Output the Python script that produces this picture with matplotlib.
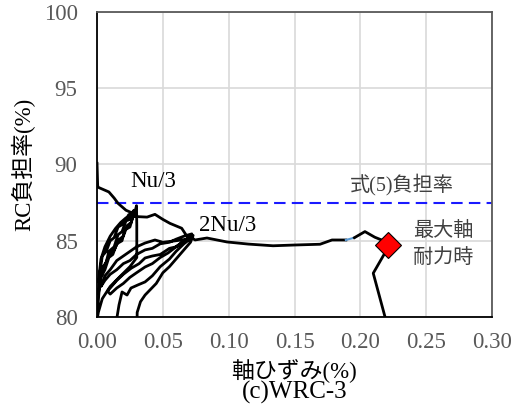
import matplotlib
matplotlib.use("Agg")
import matplotlib.pyplot as plt

plt.rcParams['font.family'] = ['Liberation Serif', 'Noto Sans CJK JP']

# strain (%) and RC load-share ratio (%) along the loading history
strain = [
    # Nu/3 cycles
    0.0000, 0.0005, 0.0010, 0.0050, 0.0090, 0.0130, 0.0160, 0.0220, 0.0260, 0.0290,
    0.0300, 0.0302, 0.0302,
    0.0250, 0.0180, 0.0100, 0.0040, 0.0010, 0.0000,
    0.0005, 0.0020, 0.0040, 0.0070, 0.0090, 0.0130, 0.0160, 0.0190, 0.0220, 0.0250,
    0.0280, 0.0290,
    0.0270, 0.0250, 0.0210, 0.0190, 0.0150, 0.0120, 0.0090, 0.0060, 0.0030, 0.0010,
    0.0020, 0.0040, 0.0070, 0.0100, 0.0130, 0.0160, 0.0200, 0.0240, 0.0280,
    0.0260, 0.0230, 0.0200, 0.0170, 0.0130, 0.0100, 0.0060, 0.0030, 0.0010,
    # 2Nu/3 cycles
    0.0030, 0.0060, 0.0100, 0.0140, 0.0180, 0.0220, 0.0260, 0.0314, 0.0380, 0.0440,
    0.0500, 0.0554, 0.0643, 0.0668, 0.0690, 0.0710,
    0.0680, 0.0600, 0.0500, 0.0440, 0.0365, 0.0300, 0.0250, 0.0200, 0.0150, 0.0100,
    0.0060, 0.0030,
    0.0060, 0.0100, 0.0150, 0.0200, 0.0250, 0.0300, 0.0365, 0.0420, 0.0480, 0.0550,
    0.0600, 0.0660, 0.0720,
    0.0700, 0.0650, 0.0600, 0.0550, 0.0480, 0.0420, 0.0365, 0.0320, 0.0260, 0.0200,
    0.0150, 0.0100, 0.0080,
    0.0100, 0.0150, 0.0200, 0.0250, 0.0300, 0.0365, 0.0420, 0.0480, 0.0540, 0.0600,
    0.0660, 0.0730,
    0.0710, 0.0660, 0.0600, 0.0550, 0.0500, 0.0450, 0.0365, 0.0330, 0.0305, 0.0303,
    0.0220, 0.0150,
    0.0152, 0.0167, 0.0190, 0.0228, 0.0258, 0.0310, 0.0365, 0.0420, 0.0480, 0.0550,
    0.0600, 0.0660, 0.0720,
    # final monotonic loading
    0.0744, 0.0835, 0.0987, 0.1150, 0.1337, 0.1500, 0.1694, 0.1785, 0.1890,
]
ratio = [
    90.08, 88.60, 88.50, 88.35, 88.20, 87.80, 87.45, 87.00, 86.85, 86.95,
    87.30, 86.00, 83.90,
    83.30, 82.70, 82.00, 81.20, 80.30, 79.80,
    80.50, 82.20, 83.20, 83.60, 84.30, 84.60, 85.40, 85.60, 86.30, 86.40,
    87.00, 86.90,
    86.50, 85.90, 85.70, 85.00, 84.80, 84.10, 83.90, 83.10, 82.60, 81.50,
    82.80, 84.00, 84.30, 85.00, 85.20, 85.90, 86.10, 86.70, 86.90,
    86.20, 86.00, 85.30, 85.10, 84.40, 84.20, 83.40, 83.00, 82.30,
    83.80, 84.60, 85.30, 85.80, 86.20, 86.50, 86.60, 86.58, 86.55, 86.73,
    86.40, 86.14, 85.82, 85.49, 85.18, 85.30,
    85.10, 85.00, 84.90, 85.05, 84.85, 84.60, 84.30, 84.00, 83.70, 83.10,
    82.70, 82.00,
    82.40, 82.80, 83.10, 83.50, 83.70, 84.10, 84.40, 84.50, 84.80, 84.90,
    85.10, 85.30, 85.45,
    85.10, 84.90, 84.60, 84.50, 84.10, 84.00, 83.87, 83.50, 83.20, 82.80,
    82.40, 81.90, 81.70,
    81.50, 81.90, 82.20, 82.60, 82.90, 83.28, 83.50, 83.90, 84.20, 84.60,
    85.00, 85.35,
    84.90, 84.40, 83.80, 83.30, 82.90, 82.20, 81.44, 81.00, 80.30, 79.00,
    77.00, 78.00,
    80.00, 80.79, 81.64, 81.44, 81.90, 82.10, 82.30, 82.70, 83.30, 83.80,
    84.30, 84.80, 85.20,
    85.05, 85.18, 84.92, 84.78, 84.67, 84.72, 84.77, 85.05, 85.05,
]

# short segment drawn in a lighter colour
blue_strain = [0.1890, 0.1955]
blue_ratio = [85.05, 85.20]

# from the light segment up to peak axial load
tail_strain = [0.1955, 0.2035, 0.2110, 0.2162, 0.2212]
tail_ratio = [85.20, 85.60, 85.23, 85.05, 84.72]

# post-peak branch
post_strain = [0.2212, 0.2200, 0.2098, 0.2187, 0.2195]
post_ratio = [84.72, 84.40, 82.87, 80.02, 79.00]

peak_strain = 0.2212
peak_ratio = 84.72

eq5_ratio = 87.45

x_ticks = [0.00, 0.05, 0.10, 0.15, 0.20, 0.25, 0.30]
y_ticks = [80, 85, 90, 95, 100]

fig = plt.figure(figsize=(5.18, 4.12), dpi=100)
ax = fig.add_axes([0.1873, 0.2306, 0.9498 - 0.1873, 0.9709 - 0.2306])

ax.set_xlim(0, 0.30)
ax.set_ylim(80, 100)
ax.set_xticks(x_ticks)
ax.set_yticks(y_ticks)
ax.set_xticklabels([f"{v:.2f}" for v in x_ticks])
ax.set_yticklabels([str(v) for v in y_ticks])
ax.grid(True, color='#d9d9d9', linewidth=1.2)
ax.set_axisbelow(True)
ax.tick_params(axis='both', length=0, labelsize=16.5, colors='#595959')
ax.tick_params(axis='y', pad=14)
ax.tick_params(axis='x', pad=11)

for side in ['top', 'right']:
    ax.spines[side].set_color('#595959')
    ax.spines[side].set_linewidth(1.3)
for side in ['left', 'bottom']:
    ax.spines[side].set_color('black')
    ax.spines[side].set_linewidth(1.3)

ax.axhline(eq5_ratio, color='#1a1aff', linewidth=1.5, dashes=(5.5, 3), zorder=2)

line_kw = dict(color='black', linewidth=2.0, solid_joinstyle='round', zorder=3)
ax.plot(strain, ratio, **line_kw)
ax.plot(blue_strain, blue_ratio, color='#5b9bd5', linewidth=1.5, zorder=3)
ax.plot(tail_strain, tail_ratio, **line_kw)
ax.plot(post_strain, post_ratio, **line_kw)
ax.plot([peak_strain], [peak_ratio], marker='D', markersize=13,
        markerfacecolor='#ff0000', markeredgecolor='black', markeredgewidth=0.8,
        linestyle='none', zorder=4, clip_on=False)

ax.text(0.025, 88.87, "Nu/3", fontsize=16.5, va='center', ha='left')
ax.text(0.0775, 86.03, "2Nu/3", fontsize=16.5, va='center', ha='left')
ax.text(0.192, 88.66, "式(5)負担率", fontsize=14.5, va='center', ha='left', color='#404040')
ax.text(0.240, 85.6, "最大軸", fontsize=14.5, va='center', ha='left', color='#404040')
ax.text(0.240, 83.85, "耐力時", fontsize=14.5, va='center', ha='left', color='#404040')

ax.set_ylabel("RC負担率(%)", fontsize=16.5, labelpad=6)
fig.text((97 + 492) / 2 / 518, 1 - 370 / 412, "軸ひずみ(%)", fontsize=16.5,
         ha='center', va='center')
fig.text((97 + 492) / 2 / 518, 1 - 392 / 412, "(c)WRC-3", fontsize=18,
         ha='center', va='center')

fig.savefig("out.png", dpi=100)
